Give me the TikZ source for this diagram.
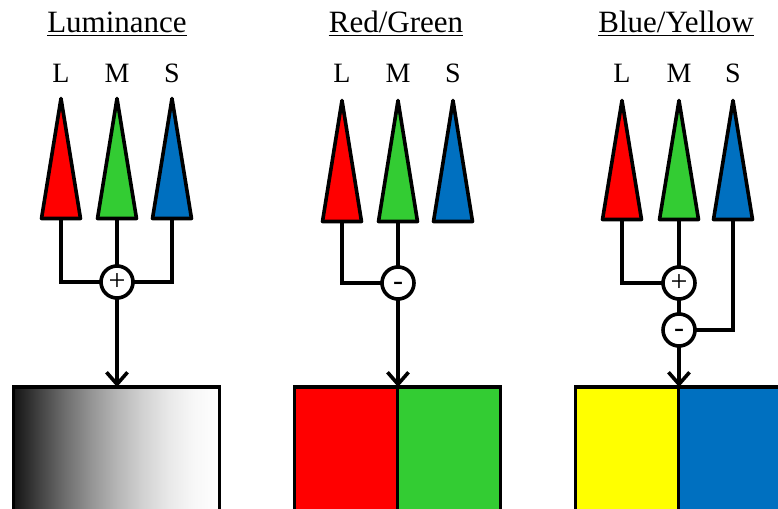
\documentclass[tikz,border=0pt]{standalone}
\usepackage{fontspec}
\setmainfont{Liberation Serif}
\usetikzlibrary{arrows.meta}
\definecolor{cred}{RGB}{255,0,0}
\definecolor{cgreen}{RGB}{51,204,51}
\definecolor{cblue}{RGB}{0,112,192}
\definecolor{cyellow}{RGB}{255,255,0}
\pgfdeclarehorizontalshading{lumshade}{100bp}{color(0bp)=(black!92); color(25bp)=(black!92); color(31.25bp)=(black!74); color(37.5bp)=(black!57); color(43.75bp)=(black!42); color(50bp)=(black!29); color(56.25bp)=(black!18); color(62.5bp)=(black!9); color(68.75bp)=(black!3); color(75bp)=(white); color(100bp)=(white)}
\newcommand{\conetri}[5]{%
  \filldraw[fill=#5, draw=black, line width=3.6pt, line join=round] (#2,#3) -- (#2-19.5,#4) -- (#2+19.5,#4) -- cycle;
  \coordinate (#1) at (#2,#4);}
\tikzset{
  ptitle/.style={font=\fontsize{31}{36}\selectfont, inner sep=0pt, anchor=base},
  cone/.style={font=\fontsize{28}{34}\selectfont, inner sep=0pt, anchor=base},
  ulinestyle/.style={line width=1.8pt},
  opnode/.style={circle, draw=black, fill=white, line width=3.6pt, minimum size=32pt, inner sep=0pt, outer sep=0pt, font=\fontsize{30}{32}\selectfont},
  minusnode/.style={opnode, text height=0pt, text depth=0pt},
  conn/.style={line width=3.6pt, line join=miter},
  arr/.style={line width=3.6pt, -{Straight Barb[length=12pt,width=21pt]}},
  boxstyle/.style={draw=black, line width=3.6pt, anchor=north west, inner sep=0pt, outer sep=0pt, minimum height=170pt},
}
\begin{document}
\begin{tikzpicture}[x=1pt, y=-1pt]
\useasboundingbox (0,0) rectangle (778,508);
\clip (0,0) rectangle (778,508);
% titles
\node[ptitle] (t1) at (117,33) {Luminance};
\node[ptitle] (t2) at (396,33) {Red/Green};
\node[ptitle] (t3) at (676,33) {Blue/Yellow};
\foreach \t in {t1,t2,t3}{
  \draw[ulinestyle] ([yshift=-2.5pt]\t.base west) -- ([yshift=-2.5pt]\t.base east);
}
% letters
\node[cone] (l1) at (61,83) {L};
\node[cone] (m1) at (117,83) {M};
\node[cone] (n1) at (172,83) {S};
\node[cone] (l2) at (342,83) {L};
\node[cone] (m2) at (398,83) {M};
\node[cone] (n2) at (453,83) {S};
\node[cone] (l3) at (622,83) {L};
\node[cone] (m3l) at (679,83) {M};
\node[cone] (n3) at (733,83) {S};
% cones
\conetri{L1}{61}{98.5}{218.5}{cred}
\conetri{M1}{117}{98.5}{218.5}{cgreen}
\conetri{S1}{172}{98.5}{218.5}{cblue}
\conetri{L2}{342}{100.5}{221.5}{cred}
\conetri{M2}{398}{100.5}{221.5}{cgreen}
\conetri{S2}{453}{100.5}{221.5}{cblue}
\conetri{L3}{622}{100.5}{219.5}{cred}
\conetri{M3}{679}{100.5}{219.5}{cgreen}
\conetri{S3}{733}{100.5}{219.5}{cblue}
% boxes
\node[boxstyle, shade, shading=lumshade, minimum width=206pt] (b1) at (13.5,387) {};
\node[boxstyle, fill=cred, minimum width=103pt] (b2l) at (294.5,387) {};
\node[boxstyle, fill=cgreen, minimum width=103pt] (b2r) at (397.5,387) {};
\node[boxstyle, fill=cyellow, minimum width=103pt] (b3l) at (575.5,387) {};
\node[boxstyle, fill=cblue, minimum width=110pt] (b3r) at (678.5,387) {};
% operators
\node[opnode] (s1) at (117,282) {+};
\node[minusnode] (d2) at (398,283) {\raisebox{-7.5pt}{-}};
\node[opnode] (p3) at (679,283) {+};
\node[minusnode] (q3) at (679,330) {\raisebox{-7.5pt}{-}};
% panel 1 connectors
\draw[conn] (L1) |- (s1);
\draw[conn] (M1) -- (s1);
\draw[conn] (S1) |- (s1);
\draw[arr] (s1) -- (s1 |- b1.north);
% panel 2 connectors
\draw[conn] (L2) |- (d2);
\draw[conn] (M2) -- (d2);
\draw[arr] (d2) -- (d2 |- b2l.north);
% panel 3 connectors
\draw[conn] (L3) |- (p3);
\draw[conn] (M3) -- (p3);
\draw[conn] (p3) -- (q3);
\draw[conn] (S3) |- (q3);
\draw[arr] (q3) -- (q3 |- b3l.north);
\end{tikzpicture}
\end{document}
